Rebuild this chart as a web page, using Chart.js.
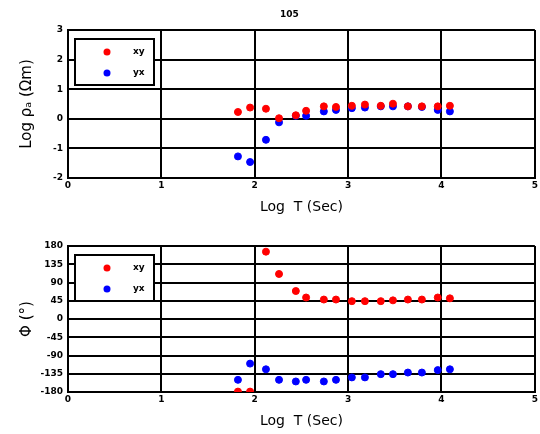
<!DOCTYPE html>
<html>
<head>
<meta charset="utf-8">
<script src="https://cdn.jsdelivr.net/npm/chart.js@4"></script>
<style>
  body { margin: 0; background: #fff; }
  .wrap { position: absolute; left: 0; width: 540px; }
</style>
</head>
<body>
<div class="wrap" style="top:0;height:220px"><canvas id="rho" width="540" height="220"></canvas></div>
<div class="wrap" style="top:220px;height:214px"><canvas id="phase" width="540" height="214"></canvas></div>
<script>
// log10 periods (sec)
var logT = [1.82, 1.95, 2.12, 2.26, 2.44, 2.55, 2.74, 2.87, 3.04, 3.18, 3.35, 3.48, 3.64, 3.79, 3.96, 4.09];
// apparent resistivity, log10 (ohm m)
var rhoXY = [0.23, 0.38, 0.34, 0.02, 0.12, 0.27, 0.42, 0.40, 0.44, 0.48, 0.44, 0.51, 0.42, 0.42, 0.42, 0.44];
var rhoYX = [-1.27, -1.46, -0.71, -0.12, 0.10, 0.10, 0.25, 0.30, 0.36, 0.38, 0.42, 0.42, 0.42, 0.40, 0.30, 0.25];
// phase (deg)
var phiXY = [-179, -179, 166, 111, 69, 53, 48, 48, 44, 44, 44, 46, 48, 48, 53, 51];
var phiYX = [-150, -110, -124, -150, -154, -150, -154, -150, -144, -144, -136, -136, -132, -132, -126, -124];

var siteName = '105';
var seriesNames = ['xy', 'yx'];
var rhoTicks = [-2, -1, 0, 1, 2, 3];
var phiTicks = [-180, -135, -90, -45, 0, 45, 90, 135, 180];

function pts(xs, ys) {
  return xs.map(function (x, i) { return { x: x, y: ys[i] }; });
}

// legend box + site title drawn inside the plot
var boxLegend = {
  id: 'boxLegend',
  afterDraw: function (chart, args, opts) {
    var ctx = chart.ctx, a = chart.chartArea;
    ctx.save();
    if (opts.title) {
      ctx.fillStyle = '#000';
      ctx.font = 'bold 9px "DejaVu Sans"';
      ctx.textAlign = 'center';
      ctx.textBaseline = 'middle';
      ctx.fillText(opts.title, (a.left + a.right) / 2 - 12, a.top - 15);
    }
    var x0 = a.left + 7, y0 = a.top + 9;
    ctx.fillStyle = '#fff';
    ctx.fillRect(x0, y0, 79, 46);
    ctx.strokeStyle = '#000';
    ctx.lineWidth = 2;
    ctx.strokeRect(x0, y0, 79, 46);
    ctx.font = 'bold 9px "DejaVu Sans"';
    ctx.textAlign = 'left';
    ctx.textBaseline = 'middle';
    var cols = ['#ff0000', '#0000ff'];
    for (var i = 0; i < 2; i++) {
      var yy = y0 + 13 + i * 21;
      ctx.fillStyle = cols[i];
      ctx.beginPath();
      ctx.arc(x0 + 32, yy, 3.5, 0, Math.PI * 2);
      ctx.fill();
      ctx.fillStyle = '#000';
      ctx.fillText(seriesNames[i], x0 + 58, yy);
    }
    ctx.restore();
  }
};

function makeChart(id, dXY, dYX, yMin, yMax, yTicks, yTitle, title) {
  return new Chart(document.getElementById(id), {
    type: 'scatter',
    data: {
      datasets: [
        { label: seriesNames[0], data: pts(logT, dXY), backgroundColor: '#ff0000', borderColor: '#ff0000', pointRadius: 3.5, pointHoverRadius: 3.5 },
        { label: seriesNames[1], data: pts(logT, dYX), backgroundColor: '#0000ff', borderColor: '#0000ff', pointRadius: 3.5, pointHoverRadius: 3.5 }
      ]
    },
    options: {
      responsive: false,
      animation: false,
      layout: { padding: { top: title ? 30 : 26, right: 3, left: 0, bottom: 0 } },
      plugins: {
        legend: { display: false },
        tooltip: { enabled: false },
        boxLegend: { title: title }
      },
      scales: {
        x: {
          type: 'linear', min: 0, max: 5,
          ticks: { stepSize: 1, color: '#000', font: { size: 9, weight: 'bold', family: 'DejaVu Sans' }, padding: 2 },
          grid: { color: '#000', lineWidth: 2, drawTicks: false },
          border: { color: '#000', width: 2 },
          title: { display: true, text: 'Log  T (Sec)', color: '#000', font: { size: 14, family: 'DejaVu Sans' }, padding: { top: 2 } },
          afterFit: function (s) { s.height = 42; }
        },
        y: {
          type: 'linear', min: yMin, max: yMax,
          afterBuildTicks: function (s) { s.ticks = yTicks.map(function (v) { return { value: v }; }); },
          ticks: { color: '#000', font: { size: 9, weight: 'bold', family: 'DejaVu Sans' }, padding: 5 },
          grid: { color: '#000', lineWidth: 2, drawTicks: false },
          border: { color: '#000', width: 2 },
          title: { display: true, text: yTitle, color: '#000', font: { size: 15, family: 'DejaVu Sans' }, padding: { top: 18, bottom: 0 } },
          afterFit: function (s) { s.width = 68; }
        }
      }
    },
    plugins: [boxLegend]
  });
}

makeChart('rho', rhoXY, rhoYX, -2, 3, rhoTicks, 'Log ρₐ (Ωm)', siteName);
makeChart('phase', phiXY, phiYX, -180, 180, phiTicks, 'Φ (°)', '');
</script>
</body>
</html>
